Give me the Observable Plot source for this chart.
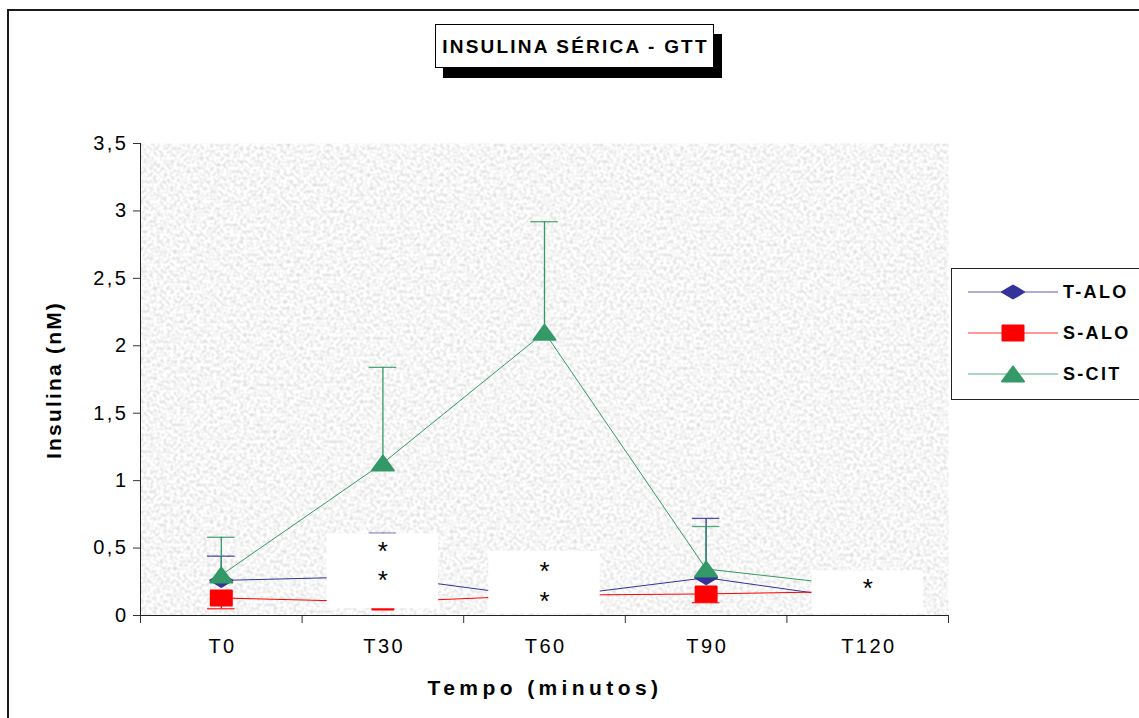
<!DOCTYPE html>
<html>
<head>
<meta charset="utf-8">
<script src="https://cdn.jsdelivr.net/npm/d3@7"></script>
<script src="https://cdn.jsdelivr.net/npm/@observablehq/plot@0.6"></script>
<style>
  html, body { margin: 0; padding: 0; background: #fff; }
  #wrap { position: relative; width: 1139px; height: 718px; overflow: hidden; font-family: "Liberation Sans", Arial, sans-serif; }
  #border { position: absolute; left: 7px; top: 9px; width: 1200px; height: 800px; border-left: 2px solid #1a1a1a; border-top: 2px solid #1a1a1a; }
  #chart { position: absolute; left: 0; top: 0; }
  #title { position: absolute; left: 435px; top: 24px; width: 277px; height: 42px; border: 1px solid #000; background: #fff;
           box-shadow: 8px 10px 0 #000; font-weight: bold; font-size: 19px; letter-spacing: 2.2px; text-align: center; line-height: 43px; white-space: nowrap; text-indent: 2px; }
  #ylab { position: absolute; left: 54px; top: 380px; transform: translate(-50%, -50%) rotate(-90deg); font-weight: bold; font-size: 21px; letter-spacing: 2.2px; white-space: nowrap; }
  #xlab { position: absolute; left: 545px; top: 688px; transform: translate(-50%, -50%); font-weight: bold; font-size: 21px; letter-spacing: 4.4px; white-space: nowrap; }
  #legend { position: absolute; left: 951px; top: 268px; width: 200px; height: 130px; border: 1px solid #222; background: #fff; }
  .lrow { position: absolute; left: 0; height: 24px; display: flex; align-items: center; }
  .lrow svg { margin-left: 16px; display: block; }
  .lrow span { margin-left: 5px; font-weight: bold; font-size: 18px; letter-spacing: 2.3px; }
  .ticklab text { letter-spacing: 2.5px; }
</style>
</head>
<body>
<div id="wrap">
  <div id="border"></div>
  <div id="chart"></div>
  <div id="title">INSULINA SÉRICA - GTT</div>
  <div id="ylab">Insulina (nM)</div>
  <div id="xlab">Tempo (minutos)</div>
  <div id="legend"></div>
</div>
<script>
// ---- data ----
const categories = ["T0", "T30", "T60", "T90", "T120"];
const seriesNames = ["T-ALO", "S-ALO", "S-CIT"];
const seriesColors = ["#333399", "#ff0000", "#339966"];
const tAlo = [0.26, 0.29, 0.13, 0.28, 0.11];
const sAlo = [0.13, 0.10, 0.15, 0.16, 0.18];
const sCit = [0.30, 1.13, 2.10, 0.345, 0.21];
const tAloErrTop = [0.44, 0.61, null, 0.72, null];
const sAloErrBottom = [0.05, null, null, 0.095, null];
const sCitErrTop = [0.58, 1.84, 2.92, 0.66, null];
const yTicks = [0, 0.5, 1, 1.5, 2, 2.5, 3, 3.5];
// white annotation boxes with asterisks
const noteCategories = ["T30", "T60", "T120"];
const noteLow = [0.05, 0.012, 0.012];
const noteHigh = [0.605, 0.475, 0.33];
const starCategories = ["T30", "T30", "T60", "T60", "T120"];
const starValues = [0.52, 0.30, 0.37, 0.15, 0.245];

// ---- derived tables ----
const idx = categories.map((_, i) => i);
const boundaries = idx.map(i => i - 0.5).concat([categories.length - 0.5]);
const seriesValues = [tAlo, sAlo, sCit];
const rows = [];
seriesValues.forEach((vals, s) => vals.forEach((v, i) => rows.push({series: seriesNames[s], i, v})));
const errRows = [];
[[tAloErrTop, 0], [sAloErrBottom, 1], [sCitErrTop, 2]].forEach(([errs, s]) => {
  errs.forEach((e, i) => { if (e != null) errRows.push({series: seriesNames[s], i, v: seriesValues[s][i], e}); });
});
const notes = noteCategories.map((c, k) => ({i: categories.indexOf(c), lo: noteLow[k], hi: noteHigh[k]}));
const stars = starCategories.map((c, k) => ({i: categories.indexOf(c), v: starValues[k]}));

// ---- marker shapes (flattened like the original) ----
const symDiamond = {draw(ctx) { ctx.moveTo(-11, 0); ctx.lineTo(0, -6.5); ctx.lineTo(11, 0); ctx.lineTo(0, 6.5); ctx.closePath(); }};
const symRect = {draw(ctx) { ctx.moveTo(-10.5, -7.5); ctx.lineTo(10.5, -7.5); ctx.lineTo(10.5, 7.5); ctx.lineTo(-10.5, 7.5); ctx.closePath(); }};
const symTri = {draw(ctx) { ctx.moveTo(0, -7.5); ctx.lineTo(11, 7.5); ctx.lineTo(-11, 7.5); ctx.closePath(); }};
const symbols = [symDiamond, symRect, symTri];

const marks = [
  Plot.frame({fill: "#e8e8e8", stroke: null, className: "bgframe"}),
  Plot.axisY({ticks: yTicks, tickSize: 7, tickPadding: 5, tickFormat: d => String(d).replace(".", ","), label: null, fontSize: 20, stroke: "#333", className: "ticklab"}),
  Plot.axisX({ticks: boundaries, tickSize: 8, tickFormat: () => "", label: null, stroke: "#333"}),
  Plot.axisX({ticks: idx, tickSize: 0, tickPadding: 23, dx: 1.25, tickFormat: i => categories[i], label: null, fontSize: 20, className: "ticklab"}),
  Plot.ruleY([0], {stroke: "#222"}),
  Plot.ruleX([boundaries[0]], {y1: 0, y2: yTicks[yTicks.length - 1], stroke: "#222"})
];
seriesNames.forEach((name, s) => {
  const er = errRows.filter(d => d.series === name);
  marks.push(
    Plot.ruleX(er, {x: "i", y1: "v", y2: "e", stroke: seriesColors[s], strokeWidth: 1.3}),
    Plot.ruleY(er, {y: "e", x1: d => d.i - 0.085, x2: d => d.i + 0.085, stroke: seriesColors[s], strokeWidth: 1.3, strokeOpacity: 0.85})
  );
});
seriesNames.forEach((name, s) => {
  const d = rows.filter(r => r.series === name);
  marks.push(
    Plot.line(d, {x: "i", y: "v", stroke: seriesColors[s], strokeWidth: 1}),
    Plot.dot(d, {x: "i", y: "v", symbol: symbols[s], fill: seriesColors[s], stroke: seriesColors[s], strokeWidth: 2, strokeLinejoin: "round"})
  );
});
marks.push(
  Plot.rect(notes, {x1: d => d.i - 0.345, x2: d => d.i + 0.345, y1: "lo", y2: "hi", fill: "#fff"}),
  Plot.text(stars, {x: "i", y: "v", text: () => "*", fontSize: 26, dy: 6, fill: "#000"})
);

const chart = Plot.plot({
  width: 1139, height: 718,
  marginLeft: 140, marginRight: 191, marginTop: 143, marginBottom: 103,
  style: {fontFamily: "'Liberation Sans', Arial, sans-serif", fontSize: "20px", color: "#000", background: "transparent", overflow: "visible"},
  x: {type: "linear", domain: [boundaries[0], boundaries[boundaries.length - 1]]},
  y: {domain: [0, yTicks[yTicks.length - 1]]},
  marks
});
// noisy gray texture for the plot background
const ns = "http://www.w3.org/2000/svg";
const defs = document.createElementNS(ns, "defs");
defs.innerHTML = `<filter id="noise" x="0" y="0" width="100%" height="100%" filterUnits="objectBoundingBox">
  <feTurbulence type="fractalNoise" baseFrequency="0.3" numOctaves="1" seed="7" result="t"/>
  <feColorMatrix in="t" type="matrix" values="0.6 0 0 0 0.62  0.6 0 0 0 0.62  0.6 0 0 0 0.62  0 0 0 0 1" result="g"/>
  <feComposite in="g" in2="SourceGraphic" operator="in"/>
</filter>`;
chart.insertBefore(defs, chart.firstChild);
const bg = chart.querySelector(".bgframe");
if (bg) bg.setAttribute("filter", "url(#noise)");
document.getElementById("chart").appendChild(chart);

// legend
const legend = document.getElementById("legend");
const legendTops = [11, 52, 93];
seriesNames.forEach((name, s) => {
  const row = document.createElement("div");
  row.className = "lrow";
  row.style.top = legendTops[s] + "px";
  const shape = [
    '<path d="M34,12 L45,5.5 L56,12 L45,18.5 Z"/>',
    '<path d="M34.5,4.5 L55.5,4.5 L55.5,19.5 L34.5,19.5 Z"/>',
    '<path d="M45,4.5 L56,19.5 L34,19.5 Z"/>'
  ][s];
  row.innerHTML = `<svg width="90" height="24"><line x1="0" x2="90" y1="12" y2="12" stroke="${seriesColors[s]}" stroke-width="1" stroke-opacity="0.8"/>` +
    `<g fill="${seriesColors[s]}" stroke="${seriesColors[s]}" stroke-width="2" stroke-linejoin="round">${shape}</g></svg><span>${name}</span>`;
  legend.appendChild(row);
});
</script>
</body>
</html>
